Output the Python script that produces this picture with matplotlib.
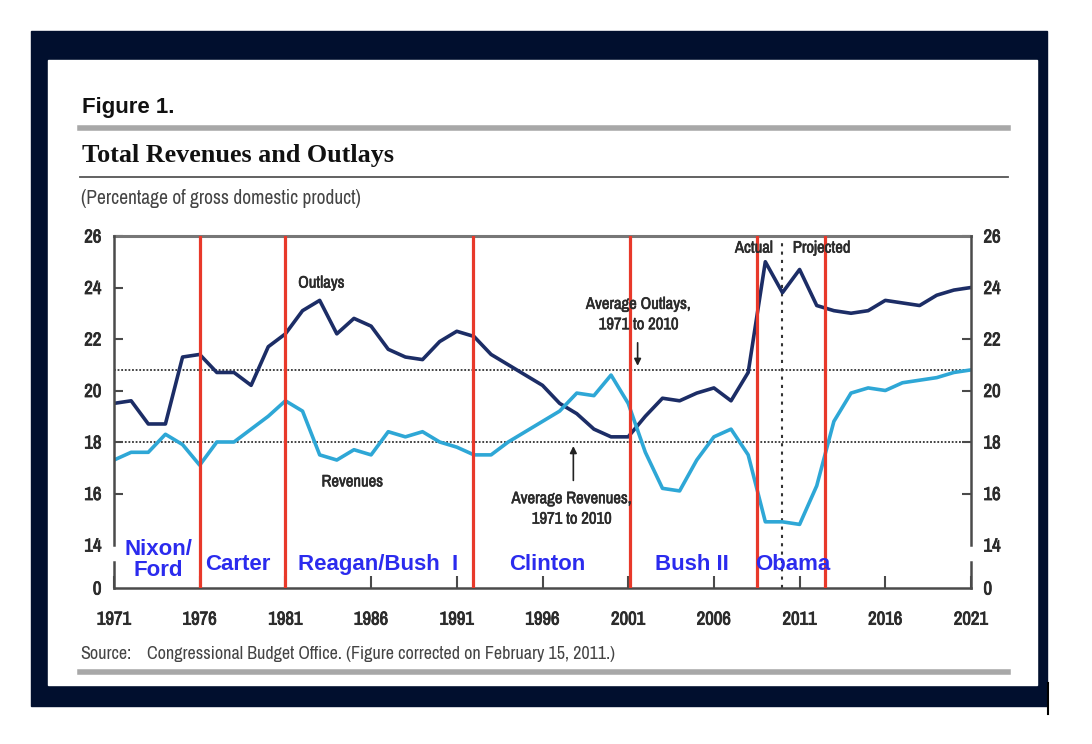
import matplotlib
matplotlib.use('Agg')
import matplotlib.pyplot as plt
from matplotlib.patches import Rectangle
from matplotlib.lines import Line2D
import matplotlib.patheffects as pe

# ---------------- data ----------------
years = list(range(1971, 2022))
outlays = [19.5, 19.6, 18.7, 18.7, 21.3, 21.4, 20.7, 20.7, 20.2, 21.7,
           22.2, 23.1, 23.5, 22.2, 22.8, 22.5, 21.6, 21.3, 21.2, 21.9,
           22.3, 22.1, 21.4, 21.0, 20.6, 20.2, 19.5, 19.1, 18.5, 18.2,
           18.2, 19.0, 19.7, 19.6, 19.9, 20.1, 19.6, 20.7, 25.0, 23.8,
           24.7, 23.3, 23.1, 23.0, 23.1, 23.5, 23.4, 23.3, 23.7, 23.9, 24.0]
revenues = [17.3, 17.6, 17.6, 18.3, 17.9, 17.1, 18.0, 18.0, 18.5, 19.0,
            19.6, 19.2, 17.5, 17.3, 17.7, 17.5, 18.4, 18.2, 18.4, 18.0,
            17.8, 17.5, 17.5, 18.0, 18.4, 18.8, 19.2, 19.9, 19.8, 20.6,
            19.5, 17.6, 16.2, 16.1, 17.3, 18.2, 18.5, 17.5, 14.9, 14.9,
            14.8, 16.3, 18.8, 19.9, 20.1, 20.0, 20.3, 20.4, 20.5, 20.7, 20.8]
avg_outlays = 20.8
avg_revenues = 18.0
term_boundaries = [1976.0, 1981.0, 1991.95, 2001.1, 2008.5, 2012.5]
admin_names = ["Nixon/\nFord", "Carter", "Reagan/Bush  I", "Clinton", "Bush II", "Obama"]
admin_x = [1973.6, 1978.2, 1986.4, 1996.3, 2004.7, 2008.4]
actual_end = 2010
xtick_years = list(range(1971, 2022, 5))
ytick_vals = [14, 16, 18, 20, 22, 24, 26]

# ---------------- figure ----------------
W, H = 1092, 744
fig = plt.figure(figsize=(W / 100, H / 100), dpi=100)
fig.patch.set_facecolor('white')

def fx(x):
    return x / W

def fy(y):
    return 1 - y / H

NAVY = '#010f2e'
fig.patches.append(Rectangle((fx(31), fy(706)), fx(1047) - fx(31), fy(31) - fy(706),
                             transform=fig.transFigure, color=NAVY, zorder=-2))
fig.patches.append(Rectangle((fx(48), fy(685)), fx(1037) - fx(48), fy(60) - fy(685),
                             transform=fig.transFigure, color='white', zorder=-1))
fig.lines.append(Line2D([fx(1048), fx(1048)], [fy(683), fy(714)], transform=fig.transFigure,
                        color='black', lw=1.5))

NARROW = ['Archivo Narrow', 'DejaVu Sans']
SANS = ['Liberation Sans', 'DejaVu Sans']
SERIF = ['Liberation Serif', 'DejaVu Serif']
TXT = '#2b2b2b'

def bold_fx(c, w):
    return [pe.withStroke(linewidth=w, foreground=c)]

# header
fig.text(fx(82), fy(113), "Figure 1.", family=SANS, weight='bold', fontsize=16,
         color='#111111', va='baseline', ha='left')
fig.lines.append(Line2D([fx(80), fx(1008)], [fy(128), fy(128)], transform=fig.transFigure,
                        color='#a8a8a8', lw=4.0))
fig.text(fx(82), fy(162), "Total Revenues and Outlays", family=SERIF, weight='bold',
         fontsize=18.8, color='#111111', va='baseline', ha='left')
fig.lines.append(Line2D([fx(80), fx(1008)], [fy(177), fy(177)], transform=fig.transFigure,
                        color='#555555', lw=1.3))
fig.text(fx(81), fy(204), "(Percentage of gross domestic product)", family=NARROW,
         fontsize=14, color='#444444', va='baseline', ha='left')

# footer
fig.text(fx(80), fy(659), "Source:", family=NARROW, fontsize=13, color='#444444',
         va='baseline', ha='left')
fig.text(fx(147), fy(659), "Congressional Budget Office. (Figure corrected on February 15, 2011.)",
         family=NARROW, fontsize=13, color='#444444', va='baseline', ha='left')
fig.lines.append(Line2D([fx(80), fx(1008)], [fy(672), fy(672)], transform=fig.transFigure,
                        color='#a8a8a8', lw=4.0))

# ---------------- axes ----------------
px_per_unit = 25.75
BOT = 14 - 43 / px_per_unit  # position of "0" below axis break
ax = fig.add_axes([fx(114), fy(588), fx(971) - fx(114), fy(236) - fy(588)])
ax.set_zorder(5)
ax.set_xlim(1971, 2021)
ax.set_ylim(BOT, 26)
ax.set_facecolor('none')

OUT_C = '#1c2d66'
REV_C = '#2ea7d6'
RED = '#e8392a'

ax.axhline(avg_outlays, color='#333333', lw=1.3, ls=(0, (1, 1)), zorder=1)
ax.axhline(avg_revenues, color='#333333', lw=1.3, ls=(0, (1, 1)), zorder=1)
ax.axvline(actual_end, color='#333333', lw=1.5, ls=(0, (1.5, 2.5)), zorder=1)

ax.plot(years, outlays, color=OUT_C, lw=2.6, zorder=2, solid_joinstyle='round')
ax.plot(years, revenues, color=REV_C, lw=2.6, zorder=2, solid_joinstyle='round')

for xb in term_boundaries:
    ax.axvline(xb, color=RED, lw=2.3, zorder=3)

# spines (with axis break between 0 and 14)
for s in ['left', 'right']:
    ax.spines[s].set_visible(False)
gap_low = 14 - 17 / px_per_unit
for xs in [0, 1]:
    ax.plot([xs, xs], [0, (gap_low - BOT) / (26 - BOT)], transform=ax.transAxes,
            color='#4a4a4a', lw=1.8, clip_on=False, zorder=4)
    ax.plot([xs, xs], [(14 - BOT) / (26 - BOT), 1], transform=ax.transAxes,
            color='#4a4a4a', lw=1.8, clip_on=False, zorder=4)
ax.spines['top'].set_color('#777777')
ax.spines['top'].set_linewidth(2.2)
ax.spines['bottom'].set_color('#4a4a4a')
ax.spines['bottom'].set_linewidth(1.8)

# ticks
ax.set_xticks(xtick_years)
ax.set_xticklabels([str(y) for y in xtick_years])
ax.set_yticks([BOT] + ytick_vals)
ax.set_yticklabels(['0'] + [str(v) for v in ytick_vals])
ax.tick_params(axis='x', direction='in', length=9, width=1.5, color='#4a4a4a', pad=17)
ax.tick_params(axis='y', direction='in', length=6.5, width=1.5, color='#4a4a4a', pad=9,
               right=True, labelright=True)
for lab in ax.get_xticklabels() + ax.get_yticklabels():
    lab.set_family(NARROW)
    lab.set_weight('bold')
    lab.set_fontsize(13.5)
    lab.set_color(TXT)
    lab.set_path_effects(bold_fx(TXT, 0.6))
for t in ax.yaxis.get_major_ticks()[:2]:
    t.tick1line.set_visible(False)
    t.tick2line.set_visible(False)

# annotations
ann = dict(family=NARROW, weight='bold', fontsize=12, color=TXT,
           path_effects=bold_fx(TXT, 0.4))
ax.text(1983.1, 24.17, "Outlays", ha='center', va='center', **ann)
ax.text(1984.9, 16.45, "Revenues", ha='center', va='center', **ann)
ax.text(2001.6, 22.95, "Average Outlays,\n1971 to 2010", ha='center', va='center',
        linespacing=1.45, **ann)
ax.text(1997.7, 15.4, "Average Revenues,\n1971 to 2010", ha='center', va='center',
        linespacing=1.45, **ann)
ax.annotate("", xy=(2001.55, avg_outlays + 0.05), xytext=(2001.55, 21.96),
            arrowprops=dict(arrowstyle='-|>', color='#222222', lw=1.2, mutation_scale=10))
ax.annotate("", xy=(1997.8, avg_revenues - 0.05), xytext=(1997.8, 16.4),
            arrowprops=dict(arrowstyle='-|>', color='#222222', lw=1.2, mutation_scale=10))
ax.text(actual_end - 0.55, 25.53, "Actual", ha='right', va='center', **ann)
ax.text(actual_end + 0.6, 25.53, "Projected", ha='left', va='center', **ann)

BLUE = '#2b2bee'
for name, xa in zip(admin_names, admin_x):
    if name.startswith("Nixon"):
        ax.text(xa, 13.42, name, ha='center', va='center', family=SANS, weight='bold',
                fontsize=16, color=BLUE, linespacing=0.95, zorder=5)
    elif name == "Obama":
        ax.text(xa, 13.03, name, ha='left', va='baseline', family=SANS, weight='bold',
                fontsize=16, color=BLUE, zorder=5)
    else:
        ax.text(xa, 13.03, name, ha='center', va='baseline', family=SANS, weight='bold',
                fontsize=16, color=BLUE, zorder=5)

fig.savefig('out.png', dpi=100)
